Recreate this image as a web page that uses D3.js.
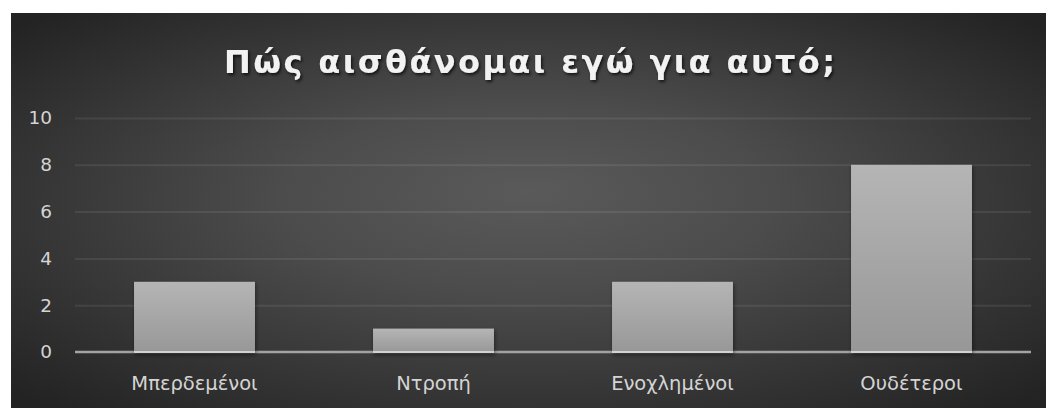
<!DOCTYPE html>
<html>
<head>
<meta charset="utf-8">
<script src="https://cdn.jsdelivr.net/npm/d3@7"></script>
<style>
  html, body { margin: 0; padding: 0; background: #ffffff; }
  svg { display: block; }
  .lbl { font-family: "DejaVu Sans", sans-serif; font-style: normal; }
  .ttl { font-family: "DejaVu Sans", sans-serif; font-style: normal; font-weight: 700; }
</style>
</head>
<body>
<svg id="chart" width="1046" height="408"></svg>
<script>
// Survey answers: how do I feel about it?
const chartTitle = "Πώς αισθάνομαι εγώ για αυτό;";
const categories = ["Μπερδεμένοι", "Ντροπή", "Ενοχλημένοι", "Ουδέτεροι"];
const counts = [3, 1, 3, 8];
const yTicks = [0, 2, 4, 6, 8, 10];

const W = 1046, H = 408;
const frame = { x: 11, y: 13, w: W - 11, h: H - 13 };
const plot = { left: 75, right: 1031, top: 118, bottom: 352 };

const svg = d3.select("#chart");
const defs = svg.append("defs");

// radial backdrop, lighter in the middle
const bg = defs.append("radialGradient").attr("id", "bgGrad")
  .attr("cx", "50%").attr("cy", "50%").attr("r", "68%")
  .attr("fx", "50%").attr("fy", "45%");
bg.append("stop").attr("offset", "0%").attr("stop-color", "#5a5a5a");
bg.append("stop").attr("offset", "35%").attr("stop-color", "#4c4c4c");
bg.append("stop").attr("offset", "100%").attr("stop-color", "#232323");

// bar fill
const barGrad = defs.append("linearGradient").attr("id", "barGrad")
  .attr("x1", 0).attr("y1", 0).attr("x2", 0).attr("y2", 1);
barGrad.append("stop").attr("offset", "0%").attr("stop-color", "#b5b5b5");
barGrad.append("stop").attr("offset", "100%").attr("stop-color", "#979797");

const barShadow = defs.append("filter").attr("id", "barShadow")
  .attr("x", "-10%").attr("y", "-10%").attr("width", "130%").attr("height", "130%");
barShadow.append("feDropShadow").attr("dx", 1).attr("dy", 2)
  .attr("stdDeviation", 2).attr("flood-color", "#000").attr("flood-opacity", 0.45);

const titleShadow = defs.append("filter").attr("id", "titleShadow")
  .attr("x", "-5%").attr("y", "-30%").attr("width", "110%").attr("height", "160%");
titleShadow.append("feDropShadow").attr("dx", 1.5).attr("dy", 2)
  .attr("stdDeviation", 1.5).attr("flood-color", "#000").attr("flood-opacity", 0.7);

svg.append("rect")
  .attr("x", frame.x).attr("y", frame.y)
  .attr("width", frame.w).attr("height", frame.h)
  .attr("fill", "url(#bgGrad)");

const x = d3.scaleBand().domain(categories)
  .range([plot.left, plot.right]).paddingInner(0.494).paddingOuter(0.247);
const y = d3.scaleLinear().domain([0, 10]).range([plot.bottom, plot.top]);

// gridlines and value labels
const yAxis = svg.append("g")
  .attr("transform", `translate(${plot.left},0)`)
  .call(d3.axisLeft(y).tickValues(yTicks).tickSize(-(plot.right - plot.left)).tickPadding(23))
  .attr("font-family", null).attr("font-size", null);
yAxis.select(".domain").remove();
yAxis.selectAll(".tick line")
  .attr("stroke", "#ffffff").attr("stroke-opacity", d => d === 0 ? 0 : 0.08)
  .attr("stroke-width", 2);
yAxis.selectAll(".tick text")
  .attr("class", "lbl")
  .attr("fill", "#d4d4d4")
  .attr("font-size", 18.5);

// category axis baseline
svg.append("line")
  .attr("x1", plot.left).attr("x2", plot.right)
  .attr("y1", y(0)).attr("y2", y(0))
  .attr("stroke", "#a3a3a3").attr("stroke-width", 2.5);

// bars
const bars = svg.append("g").selectAll("g").data(categories).join("g");
bars.append("rect")
  .attr("x", d => x(d))
  .attr("y", (d, i) => y(counts[i]))
  .attr("width", x.bandwidth())
  .attr("height", (d, i) => y(0) - y(counts[i]) + 1)
  .attr("fill", "url(#barGrad)")
  .attr("filter", "url(#barShadow)");
bars.append("rect")
  .attr("x", d => x(d))
  .attr("y", y(0) - 1)
  .attr("width", x.bandwidth())
  .attr("height", 2)
  .attr("fill", "#d2d2d2");

// category labels
const xAxis = svg.append("g")
  .attr("transform", `translate(0,${y(0)})`)
  .call(d3.axisBottom(x).tickSize(0).tickPadding(24))
  .attr("font-family", null).attr("font-size", null);
xAxis.select(".domain").remove();
xAxis.selectAll(".tick text")
  .attr("class", "lbl")
  .attr("fill", "#d4d4d4")
  .attr("font-size", 19.5);

// title, spaced out to its drawn width
const title = svg.append("text")
  .attr("class", "ttl")
  .attr("x", (224 + 835) / 2).attr("y", 73)
  .attr("text-anchor", "middle")
  .attr("fill", "#f2f2f2")
  .attr("filter", "url(#titleShadow)")
  .attr("font-size", 32)
  .text(chartTitle);
const baseLen = title.node().getComputedTextLength();
const spacing = Math.max(0, (611 - baseLen) / (chartTitle.length - 1));
title.attr("letter-spacing", spacing)
  .attr("x", (224 + 835) / 2 + spacing / 2);
</script>
</body>
</html>
